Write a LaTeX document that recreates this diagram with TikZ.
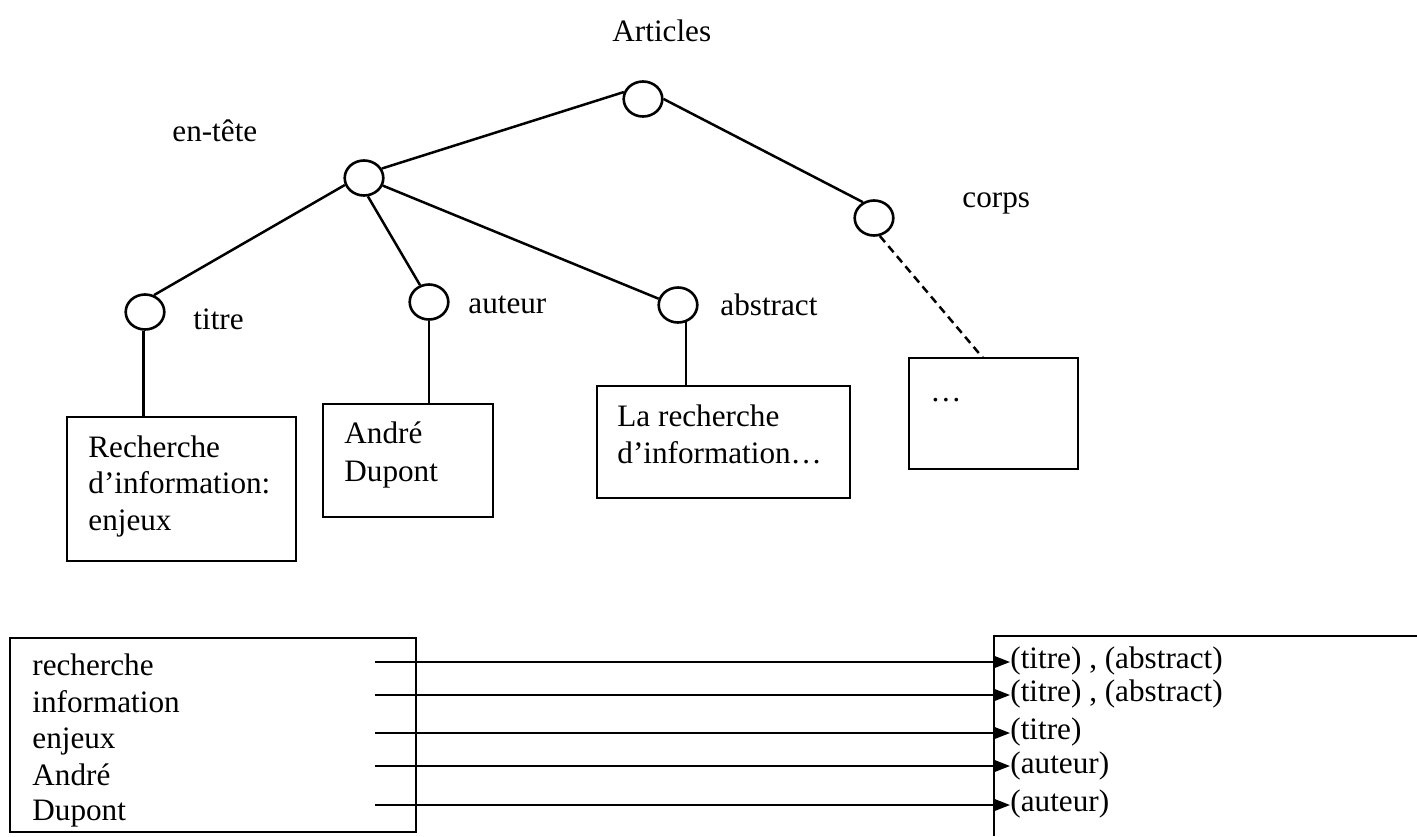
\documentclass[tikz,border=0pt]{standalone}
\usepackage{fontspec}
\setmainfont{Liberation Serif}
\usetikzlibrary{shapes.geometric,arrows.meta,fit}
\begin{document}
\begin{tikzpicture}[x=0.5pt,y=-0.5pt,
  every node/.style={font=\fontsize{15.6}{18.3}\selectfont},
  txt/.style={anchor=base west,inner sep=0pt},
  elt/.style={draw,ellipse,line width=1.3pt,minimum width=19.3pt,minimum height=17.5pt,inner sep=0pt},
  edge/.style={line width=1.25pt},
  box/.style={draw,rectangle,line width=1.1pt,inner sep=0pt},
  link/.style={line width=1pt,-{Triangle[length=8pt,width=6pt]}},
  rtxt/.style={anchor=west,inner sep=0pt,text height=0.69em,text depth=0.18em}]
\useasboundingbox (0,0) rectangle (1417,836);

% --- document tree ---
\node[elt] (root) at (643,99) {};
\node[elt] (entete) at (364,178) {};
\node[elt] (corps) at (874,218) {};
\node[elt] (titre) at (145,312) {};
\node[elt] (auteur) at (429,302) {};
\node[elt] (abstract) at (678,305) {};

\node[txt] (lroot) at (612,41) {Articles};
\node[txt] (lentete) at (172,141) {en-tête};
\node[txt] (lcorps) at (962,207) {corps};
\node[txt] (ltitre) at (193,329) {titre};
\node[txt] (lauteur) at (468,313) {auteur};
\node[txt] (labstract) at (720,315) {abstract};

\draw[edge] (root.160) -- (entete.28);
\draw[edge] (root.east) -- (corps.125);
\draw[edge] (entete.200) -- (titre.62);
\draw[edge] (entete.-78) -- (auteur.118);
\draw[edge] (entete.-22) -- (abstract.162);

% --- leaf contents ---
\node[box,fit={(67,417) (296,561)}] (tbox) {};
\node[box,fit={(323,404) (493,517)}] (abox) {};
\node[box,fit={(597,386) (850,498)}] (sbox) {};
\node[box,fit={(909,358) (1078,469)}] (cbox) {};

\node[txt] (t1) at (88,457) {Recherche};
\node[txt] (t2) at (88,493) {d’information:};
\node[txt] (t3) at (88,530) {enjeux};
\node[txt] (a1) at (344,443) {André};
\node[txt] (a2) at (344,481) {Dupont};
\node[txt] (s1) at (617,426) {La recherche};
\node[txt] (s2) at (617,463) {d’information…};
\node[txt] (c1) at (930,401) {…};

\draw[edge] (titre.265) -- (titre.265 |- tbox.north);
\draw[edge] (auteur.south) -- (auteur.south |- abox.north);
\draw[edge] (abstract.295) -- (abstract.295 |- sbox.north);
\draw[edge,dash pattern=on 4pt off 2.6pt] (corps.-72) -- (983,358);

% --- inverted index ---
\node[box,fit={(10,638) (416,832)}] (terms) {};
\node[txt] (w1) at (32,675) {recherche};
\node[txt] (w2) at (32,712) {information};
\node[txt] (w3) at (32,748) {enjeux};
\node[txt] (w4) at (32,785) {André};
\node[txt] (w5) at (32,820) {Dupont};

\draw[line width=1.1pt] (1417,636) -- (994,636) -- (994,836);

\coordinate (p1) at (375,662);
\coordinate (p2) at (375,695);
\coordinate (p3) at (375,733);
\coordinate (p4) at (375,766);
\coordinate (p5) at (375,805);

\node[rtxt] (r1) at (1010,663) {(titre) , (abstract)};
\node[rtxt] (r2) at (1010,696) {(titre) , (abstract)};
\node[rtxt] (r3) at (1010,734) {(titre)};
\node[rtxt] (r4) at (1010,768) {(auteur)};
\node[rtxt] (r5) at (1010,806) {(auteur)};

\foreach \i in {1,...,5} \draw[link] (p\i) -- (p\i -| r\i.west);
\end{tikzpicture}
\end{document}
